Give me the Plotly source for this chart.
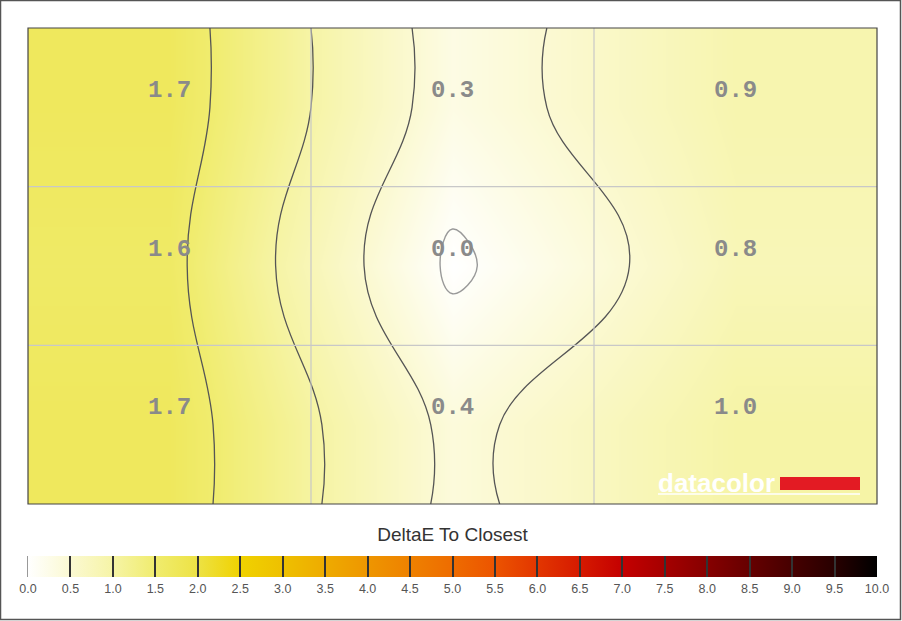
import numpy as np
import plotly.graph_objects as go

# ---- data ----
col_pos = [0.5, 1.5, 2.5]          # cell centres (columns)
row_pos = [2.5, 1.5, 0.5]          # cell centres (rows, top to bottom)
delta_e = [
    [1.7, 0.3, 0.9],
    [1.6, 0.0, 0.8],
    [1.7, 0.4, 1.0],
]
cbar_ticks = [i * 0.5 for i in range(21)]
title_text = "DeltaE To Closest"

W, H = 902, 621
ml, mr, mt, mb = 28, 25, 28, 117
pw, ph = W - ml - mr, H - mt - mb

colorscale = [
    [0.00, "#FFFFFF"], [0.05, "#FBF9D2"], [0.10, "#F6F4A6"], [0.15, "#F0EC6E"],
    [0.20, "#EDE244"], [0.25, "#F0D200"], [0.30, "#EEC000"], [0.35, "#EEAB00"],
    [0.40, "#EE9600"], [0.45, "#EE8100"], [0.50, "#EE6C00"], [0.55, "#EC5400"],
    [0.60, "#E23600"], [0.65, "#D61A00"], [0.70, "#C40000"], [0.75, "#A50000"],
    [0.80, "#860000"], [0.85, "#660000"], [0.90, "#460000"], [0.95, "#280000"],
    [1.00, "#000000"],
]

z = np.array(delta_e)[::-1]  # bottom row first
y_sorted = sorted(row_pos)

# padded table for contour lines so they reach the plot edges
zp = np.pad(z, 1, mode="edge")
xp = [0.0] + col_pos + [3.0]
yp = [0.0] + y_sorted + [3.0]

bar_top = 556
fig = go.Figure()
fig.add_trace(go.Heatmap(
    x=col_pos, y=y_sorted, z=z, zmin=0, zmax=10, zsmooth="best",
    colorscale=colorscale, hoverinfo="skip",
    colorbar=dict(
        orientation="h", x=0.5, xanchor="center",
        y=-(bar_top - 21 - (mt + ph)) / ph, yanchor="top",
        len=pw, lenmode="pixels", thickness=21,
        xpad=0, ypad=0, outlinewidth=0,
        tickmode="array", tickvals=cbar_ticks,
        ticktext=[f"{t:.1f}" for t in cbar_ticks],
        ticks="inside", ticklen=21, tickwidth=2, tickcolor="#333",
        tickfont=dict(family="Arial, Liberation Sans", size=12.5, color="#555"),
        title=dict(text=title_text, side="top",
                   font=dict(family="Arial, Liberation Sans", size=19, color="#333")),
    ),
))
fig.add_trace(go.Contour(
    x=xp, y=yp, z=zp, showscale=False, hoverinfo="skip",
    contours=dict(coloring="none", start=0.5, end=10, size=0.5),
    line=dict(color="#555555", width=1.3, smoothing=1.3),
))
fig.add_trace(go.Contour(
    x=xp, y=yp, z=zp, showscale=False, hoverinfo="skip",
    contours=dict(coloring="none", start=0.07, end=0.07, size=1),
    line=dict(color="#999999", width=1.4, smoothing=1.3),
))

# value labels
for r, yv in enumerate(row_pos):
    for c, xv in enumerate(col_pos):
        fig.add_annotation(x=xv, y=yv, text=f"<b>{delta_e[r][c]:.1f}</b>", showarrow=False,
                           yshift=17,
                           font=dict(family="Liberation Mono, Courier New, monospace",
                                     size=24, color="#8a8a8a"))

# grid lines
shapes = []
for k in range(1, len(col_pos)):
    shapes.append(dict(type="line", xref="x", yref="paper", x0=k, x1=k, y0=0, y1=1,
                       line=dict(color="#c8c8c8", width=1.2), layer="above"))
for k in range(1, len(row_pos)):
    shapes.append(dict(type="line", xref="paper", yref="y", x0=0, x1=1, y0=k, y1=k,
                       line=dict(color="#c8c8c8", width=1.2), layer="above"))
# plot frame
shapes.append(dict(type="rect", xref="paper", yref="paper", x0=0, x1=1, y0=0, y1=1,
                   line=dict(color="#444", width=1.2), layer="above"))
# first colorbar tick (left edge)
shapes.append(dict(type="line", xref="paper", yref="paper", x0=0.5 / pw, x1=0.5 / pw,
                   y0=-(bar_top - (mt + ph)) / ph, y1=-(bar_top + 21 - (mt + ph)) / ph,
                   line=dict(color="#333", width=2), layer="above"))
# page border
shapes.append(dict(type="rect", xref="paper", yref="paper",
                   x0=-(ml - 0.5) / pw, x1=(W - ml - 1.5) / pw,
                   y0=-(mb - 1.5) / ph, y1=1 + (mt - 0.5) / ph,
                   line=dict(color="#555", width=1.5), layer="above"))
# datacolor logo
lx0, lx1 = (658 - ml) / pw, (860 - ml) / pw
shapes.append(dict(type="rect", xref="paper", yref="paper",
                   x0=(780 - ml) / pw, x1=lx1,
                   y0=(mt + ph - 490) / ph, y1=(mt + ph - 477) / ph,
                   fillcolor="#E31B23", line=dict(width=0), layer="above"))
shapes.append(dict(type="line", xref="paper", yref="paper", x0=lx0, x1=lx1,
                   y0=(mt + ph - 494) / ph, y1=(mt + ph - 494) / ph,
                   line=dict(color="white", width=1.5), layer="above"))
fig.add_annotation(xref="paper", yref="paper", x=lx0 - 2 / pw, y=(mt + ph - 483) / ph,
                   xanchor="left", yanchor="middle", showarrow=False, text="<b>datacolor</b>",
                   font=dict(family="Arial, Liberation Sans", size=26, color="white"))

fig.update_layout(
    width=W, height=H, margin=dict(l=ml, r=mr, t=mt, b=mb, autoexpand=False),
    paper_bgcolor="white", plot_bgcolor="white",
    xaxis=dict(range=[0, 3], showticklabels=False, showgrid=False, zeroline=False, ticks=""),
    yaxis=dict(range=[0, 3], showticklabels=False, showgrid=False, zeroline=False, ticks=""),
    shapes=shapes, showlegend=False,
)
fig.write_html("out.html")
